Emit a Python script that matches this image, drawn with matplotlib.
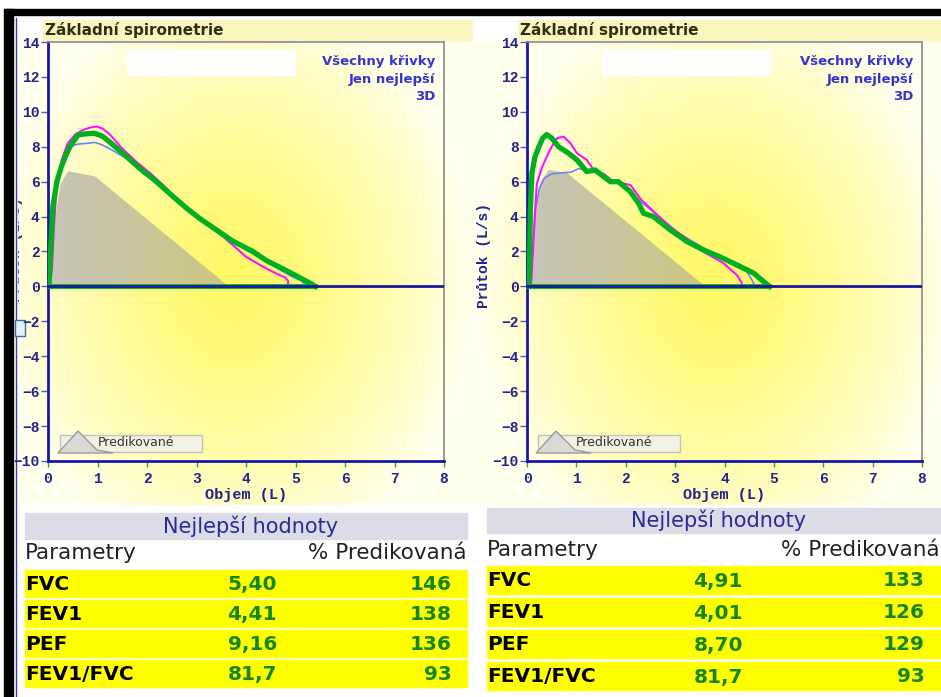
import numpy as np
import matplotlib
matplotlib.use('Agg')
import matplotlib.pyplot as plt
from matplotlib.patches import Rectangle, Polygon

## Flow-volume curves (volume L, flow L/s) - first test
a_blue_v = [0.03, 0.08, 0.15, 0.25, 0.35, 0.45, 0.6, 0.8, 0.95, 1.1, 1.3, 1.6, 1.9,
            2.2, 2.5, 2.8, 3.1, 3.4, 3.7, 4.0, 4.3, 4.6, 4.9, 5.1, 5.25]
a_blue_f = [0, 2.5, 5.2, 6.8, 7.6, 8.0, 8.15, 8.2, 8.25, 8.1, 7.8, 7.3, 6.7,
            6.0, 5.2, 4.5, 3.9, 3.3, 2.6, 2.1, 1.6, 1.1, 0.6, 0.35, 0]
a_mag_v = [0.03, 0.08, 0.12, 0.18, 0.28, 0.4, 0.55, 0.7, 0.85, 0.98, 1.1, 1.25, 1.5,
           1.8, 2.1, 2.4, 2.7, 3.0, 3.3, 3.6, 3.8, 4.0, 4.3, 4.6, 4.8, 4.85, 4.85]
a_mag_f = [0, 1.0, 3.5, 5.8, 7.3, 8.2, 8.7, 8.95, 9.1, 9.16, 9.05, 8.7, 7.9,
           7.1, 6.4, 5.6, 4.7, 4.0, 3.4, 2.7, 2.2, 1.7, 1.2, 0.75, 0.5, 0.3, 0]
a_green_v = [0.02, 0.05, 0.1, 0.18, 0.27, 0.36, 0.44, 0.61, 0.8, 0.94, 1.1, 1.24, 1.55,
             1.85, 2.19, 2.53, 2.8, 3.06, 3.4, 3.73, 4.14, 4.4, 4.82, 5.15, 5.35, 5.40]
a_green_f = [0, 2.0, 4.6, 6.0, 6.86, 7.5, 8.0, 8.68, 8.75, 8.77, 8.6, 8.29, 7.53,
             6.77, 6.0, 5.14, 4.48, 3.9, 3.24, 2.6, 2.0, 1.5, 0.9, 0.4, 0.1, 0]
a_pred_v = [0.05, 0.1, 0.25, 0.4, 0.95, 3.65]
a_pred_f = [0, 3.0, 5.8, 6.6, 6.3, 0]

## second test
b_blue_v = [0.08, 0.12, 0.18, 0.25, 0.35, 0.5, 0.7, 0.9, 1.05, 1.3, 1.6, 1.9,
            2.2, 2.5, 2.8, 3.1, 3.4, 3.7, 4.0, 4.3, 4.45, 4.55, 4.62]
b_blue_f = [0, 2.5, 4.5, 5.6, 6.2, 6.45, 6.5, 6.55, 6.75, 6.6, 6.3, 5.8,
            5.1, 4.4, 3.7, 3.0, 2.5, 2.0, 1.5, 1.05, 0.85, 0.4, 0]
b_mag_v = [0.08, 0.12, 0.16, 0.2, 0.3, 0.4, 0.5, 0.61, 0.74, 0.88, 1.01, 1.21, 1.35,
           1.55, 1.75, 1.95, 2.1, 2.3, 2.6, 2.9, 3.2, 3.51, 3.75, 3.98, 4.15, 4.25, 4.35]
b_mag_f = [0, 2.0, 4.2, 5.9, 6.8, 7.43, 8.0, 8.49, 8.58, 8.2, 7.63, 7.25, 6.67,
           6.45, 6.0, 5.9, 5.8, 5.0, 4.2, 3.4, 2.8, 2.09, 1.7, 1.33, 0.9, 0.66, 0.2]
b_green_v = [0.04, 0.07, 0.1, 0.16, 0.24, 0.32, 0.40, 0.5, 0.64, 0.84, 1.01, 1.21, 1.38,
             1.55, 1.69, 1.85, 2.09, 2.26, 2.36, 2.56, 2.9, 3.24, 3.57, 3.9, 4.18,
             4.59, 4.79, 4.91]
b_green_f = [0, 4.5, 6.5, 7.4, 8.0, 8.5, 8.70, 8.5, 8.0, 7.63, 7.25, 6.58, 6.67,
             6.29, 6.0, 6.0, 5.43, 4.76, 4.19, 4.0, 3.24, 2.57, 2.09, 1.7, 1.33,
             0.76, 0.28, 0]
b_pred_v = [0.08, 0.14, 0.28, 0.44, 0.81, 3.61]
b_pred_f = [0, 3.2, 6.0, 6.67, 6.5, 0]

## Table values
params = ['FVC', 'FEV1', 'PEF', 'FEV1/FVC']
best_a = ['5,40', '4,41', '9,16', '81,7']
pct_a = ['146', '138', '136', '93']
best_b = ['4,91', '4,01', '8,70', '81,7']
pct_b = ['133', '126', '129', '93']

W, H = 941, 697
NAVY = '#23238c'
MONO = 'Liberation Mono'


def box(x0, y0, x1, y1):
    return [x0 / W, 1 - y1 / H, (x1 - x0) / W, (y1 - y0) / H]


fig = plt.figure(figsize=(W / 100, H / 100), dpi=100, facecolor='white')

# pixel-space canvas for backgrounds, titles and tables
bg = fig.add_axes([0, 0, 1, 1])
bg.set_xlim(0, W)
bg.set_ylim(H, 0)
bg.axis('off')


def glow(x0, x1, y0, y1, cx, cy, rx, ry):
    xs = np.arange(x0, x1) + 0.5
    ys = np.arange(y0, y1) + 0.5
    X, Y = np.meshgrid(xs, ys)
    t = np.clip(np.hypot((X - cx) / rx, (Y - cy) / ry), 0, 1) ** 1.4
    c0 = np.array([255, 249, 105]) / 255
    c1 = np.array([255, 255, 238]) / 255
    img = c0 * (1 - t[..., None]) + c1 * t[..., None]
    bg.imshow(img, extent=(x0, x1, y1, y0), aspect='auto', zorder=0)


glow(14, 478, 40, 505, 235, 280, 240, 290)
glow(478, 941, 40, 505, 715, 285, 240, 290)
bg.set_xlim(0, W)
bg.set_ylim(H, 0)

# title bands
for x0, x1, tx in [(43, 472, 45), (518, 941, 520)]:
    bg.add_patch(Rectangle((x0, 20), x1 - x0, 20, color='#fbf6c0', zorder=1))
    bg.text(tx, 30.5, 'Základní spirometrie', fontsize=11, fontweight='bold',
            color='#303010', va='center', zorder=2)

# white header boxes and curve selector text
for x0, xr in [(127, 435), (602, 913)]:
    bg.add_patch(Rectangle((x0, 50), 168, 25, color='white', zorder=1))
    for yy, s in zip([62, 79, 96], ['Všechny křivky', 'Jen nejlepší', '3D']):
        bg.text(xr, yy, s, ha='right', va='center', fontsize=9.5,
                fontweight='bold', color='#3535d0', zorder=2)

# predicted legend
for dx in [0, 478]:
    bg.add_patch(Rectangle((60 + dx, 435), 142, 17, facecolor='#f2f1e2',
                           edgecolor='#c4c4b4', lw=1, zorder=1))
    bg.add_patch(Polygon([(58 + dx, 453), (78 + dx, 431), (97 + dx, 450), (113 + dx, 453)],
                         closed=True, facecolor='#d9d9d6', edgecolor='#9c9c9c', lw=1, zorder=2))
    bg.text(98 + dx, 443, 'Predikované', fontsize=9, color='#333333', va='center', zorder=3)

# flow axis label of the first chart, cut at the frame
bg.text(16, 250, 'Průtok (L/s)', rotation=90, ha='center', va='center', fontsize=10.5,
        fontfamily=MONO, fontweight='bold', color=NAVY, zorder=1)
bg.add_patch(Rectangle((13, 15), 4, H, color='#fffff4', zorder=2))
bg.plot([16.5, 16.5], [18, H], color='#3a3ab8', lw=1, zorder=3)
bg.add_patch(Rectangle((15, 320), 10, 16, facecolor='#e6f0f8', edgecolor='#3a6ab8', lw=1, zorder=3))

# frame
bg.add_patch(Rectangle((5, 9), W, 6, color='black', zorder=6))
bg.add_patch(Rectangle((4, 9), 9, H, color='black', zorder=6))


def table(x0, x1, hy0, hy1, cy, rows_y, rh, best, pct, xv, xp):
    bg.add_patch(Rectangle((x0, hy0), x1 - x0, hy1 - hy0, color='#dcdce6', zorder=1))
    bg.text((x0 + x1) / 2 + 5, (hy0 + hy1) / 2, 'Nejlepší hodnoty', ha='center', va='center',
            fontsize=15, color='#2a2a98', zorder=2)
    bg.text(x0, cy, 'Parametry', va='center', fontsize=15.5, color='#222222', zorder=2)
    bg.text(min(x1, 940), cy, '% Predikovaná', ha='right', va='center', fontsize=15.5,
            color='#222222', zorder=2)
    for y, p, b, q in zip(rows_y, params, best, pct):
        bg.add_patch(Rectangle((x0, y), x1 - x0, rh, color='#ffff00', zorder=1))
        yc = y + rh / 2 + 1
        bg.text(x0, yc, p, va='center', fontsize=14.5, fontweight='bold', color='black', zorder=2)
        bg.text(xv, yc, b, ha='right', va='center', fontsize=14.5, fontweight='bold',
                color='#16861a', zorder=2)
        bg.text(xp, yc, q, ha='right', va='center', fontsize=14.5, fontweight='bold',
                color='#16861a', zorder=2)


table(25, 467, 513, 539, 553, [570, 600, 630, 660], 27, best_a, pct_a, 277, 452)
table(487, 941, 508, 533, 550, [566, 598, 630, 662], 28, best_b, pct_b, 743, 925)


def chart(rect, curves, pred_v, pred_f, ylabel):
    ax = fig.add_axes(box(*rect))
    ax.set_facecolor('none')

    # predicted area, shaded grey to olive
    poly = Polygon(list(zip(pred_v, pred_f)), closed=True, facecolor='none', edgecolor='none')
    ax.add_patch(poly)
    ramp = np.linspace(0, 1, 200)[None, :, None]
    c0 = np.array([198, 196, 184]) / 255
    c1 = np.array([206, 198, 128]) / 255
    grad = np.repeat(c0 * (1 - ramp) + c1 * ramp, 2, axis=0)
    im = ax.imshow(grad, extent=(0, max(pred_v), 0, max(pred_f)), aspect='auto', zorder=1)
    im.set_clip_path(poly)

    for (v, f), col, lw in zip(curves, ['#6f80ff', '#ff10ff', '#00b020'], [1.2, 1.5, 3.8]):
        ax.plot(v, f, color=col, lw=lw, zorder=3, solid_joinstyle='round')
    gv = curves[2][0]
    ax.plot([0, gv[-1]], [0, 0], color='#00b020', lw=3.5, zorder=3)
    ax.axhline(0, color='#1818a0', lw=2, zorder=4)

    ax.set_xlim(0, 8)
    ax.set_ylim(-10, 14)
    ax.set_xticks(range(9))
    ax.set_yticks(range(-10, 15, 2))
    for s in ['left', 'bottom']:
        ax.spines[s].set_color('#1818a8')
        ax.spines[s].set_linewidth(2)
    for s in ['top', 'right']:
        ax.spines[s].set_color('#8a8a8a')
        ax.spines[s].set_linewidth(1.2)
    ax.tick_params(axis='y', length=5, width=1, color='#5a5ab0', pad=1,
                   labelsize=10.5, labelcolor=NAVY)
    ax.tick_params(axis='x', length=4, width=1, color='#3aa03a', pad=4,
                   labelsize=10.5, labelcolor=NAVY)
    for lbl in ax.get_xticklabels() + ax.get_yticklabels():
        lbl.set_fontfamily(MONO)
        lbl.set_fontweight('bold')
    ax.set_xlabel('Objem (L)', fontfamily=MONO, fontweight='bold', fontsize=11,
                  color=NAVY, labelpad=1)
    if ylabel:
        ax.set_ylabel('Průtok (L/s)', fontfamily=MONO, fontweight='bold', fontsize=10.5,
                      color=NAVY)
        ax.yaxis.set_label_coords(-0.09, 0.49)
    return ax


chart((48, 42, 444, 461),
      [(a_blue_v, a_blue_f), (a_mag_v, a_mag_f), (a_green_v, a_green_f)],
      a_pred_v, a_pred_f, False)
chart((527, 42, 922, 461),
      [(b_blue_v, b_blue_f), (b_mag_v, b_mag_f), (b_green_v, b_green_f)],
      b_pred_v, b_pred_f, True)

fig.savefig('out.png', dpi=100, facecolor='white')
